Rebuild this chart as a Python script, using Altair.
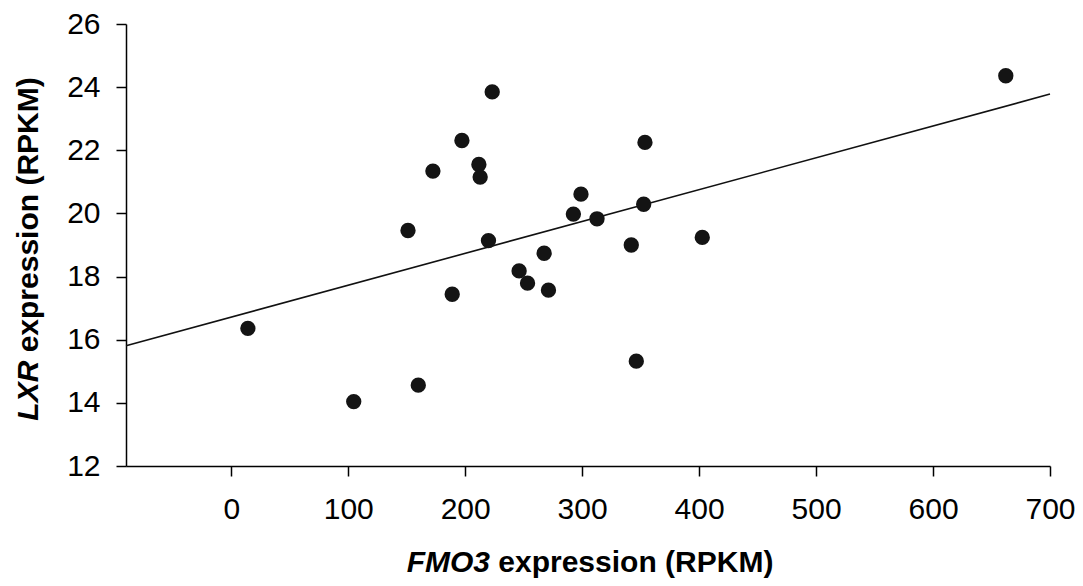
import altair as alt
import pandas as pd

# Data
fmo3 = [14.2, 104.7, 151.1, 159.9, 172.4, 188.9, 197.2, 211.7, 212.8, 219.9,
        223.1, 246.1, 253.3, 267.5, 271.2, 292.5, 299.0, 312.7, 342.0, 346.3,
        352.6, 353.7, 402.7, 662.2]
lxr = [16.36, 14.04, 19.46, 14.56, 21.34, 17.44, 22.31, 21.55, 21.15, 19.14,
       23.85, 18.18, 17.79, 18.74, 17.57, 19.98, 20.61, 19.83, 19.00, 15.32,
       20.29, 22.25, 19.24, 24.36]
fit_x = [-90, 700]
fit_y = [15.81, 23.78]
x_ticks = [0, 100, 200, 300, 400, 500, 600, 700]
y_ticks = [12, 14, 16, 18, 20, 22, 24, 26]
x_title = ["FMO3", "expression (RPKM)"]
y_title = ["LXR", "expression (RPKM)"]

FONT = "Liberation Sans"
FS = 30
W, H = 924, 442

pts = pd.DataFrame({"x": fmo3, "y": lxr})
fit = pd.DataFrame({"x": fit_x, "y": fit_y})

xs = alt.Scale(domain=[-90, 700], nice=False, zero=False)
ys = alt.Scale(domain=[12, 26], nice=False, zero=False)

xaxis = alt.Axis(values=x_ticks, labelFlush=False, labelPadding=18, labelOverlap=False)
yaxis = alt.Axis(values=y_ticks, labelPadding=16, labelOverlap=False)

points = alt.Chart(pts).mark_circle(size=235, color="#141414", opacity=1).encode(
    x=alt.X("x:Q", scale=xs, axis=xaxis, title=None),
    y=alt.Y("y:Q", scale=ys, axis=yaxis, title=None),
)

line = alt.Chart(fit).mark_line(color="#111111", strokeWidth=1.6).encode(
    x=alt.X("x:Q", scale=xs),
    y=alt.Y("y:Q", scale=ys),
)

# Approximate Arial Bold widths (em) for mixed italic title layout
def em_width(s):
    w = {"F": .611, "M": .833, "O": .778, "3": .556, "L": .611, "X": .667, "R": .722,
         "e": .556, "x": .556, "p": .611, "r": .389, "s": .556, "i": .278, "o": .611,
         "n": .611, "(": .333, ")": .333, "P": .667, "K": .722, " ": .278}
    return sum(w.get(c, .6) for c in s) * FS

SP = em_width(" ")

# X title, centered under the plot
xw0, xw1 = em_width(x_title[0]), em_width(x_title[1])
x_start = W / 2 + 2 - (xw0 + SP + xw1) / 2
x_base = 572 - 24
xt1 = alt.Chart(pd.DataFrame({"t": [x_title[0]]})).mark_text(
    font=FONT, fontSize=FS, fontWeight="bold", fontStyle="italic", align="left",
    baseline="alphabetic", color="black"
).encode(text="t:N", x=alt.value(x_start), y=alt.value(x_base))
xt2 = alt.Chart(pd.DataFrame({"t": [x_title[1]]})).mark_text(
    font=FONT, fontSize=FS, fontWeight="bold", align="left",
    baseline="alphabetic", color="black"
).encode(text="t:N", x=alt.value(x_start + xw0 + SP), y=alt.value(x_base))

# Y title, rotated, centered along the plot
yw0, yw1 = em_width(y_title[0]), em_width(y_title[1])
y_start = 249 - 24 + (yw0 + SP + yw1) / 2
y_base = 38 - 126
yt1 = alt.Chart(pd.DataFrame({"t": [y_title[0]]})).mark_text(
    font=FONT, fontSize=FS, fontWeight="bold", fontStyle="italic", align="left",
    baseline="alphabetic", angle=270, color="black"
).encode(text="t:N", x=alt.value(y_base), y=alt.value(y_start))
yt2 = alt.Chart(pd.DataFrame({"t": [y_title[1]]})).mark_text(
    font=FONT, fontSize=FS, fontWeight="bold", align="left",
    baseline="alphabetic", angle=270, color="black"
).encode(text="t:N", x=alt.value(y_base), y=alt.value(y_start - yw0 - SP))

chart = alt.layer(line, points, xt1, xt2, yt1, yt2).properties(
    width=W, height=H,
    autosize=alt.AutoSizeParams(type="none"),
    padding={"left": 118, "top": 16, "right": 25, "bottom": 118},
    background="white",
).configure_view(stroke=None).configure_axis(
    grid=False, labelFont=FONT, labelFontSize=FS, labelColor="black",
    tickSize=10, tickColor="black", tickWidth=1.5,
    domainColor="black", domainWidth=1.5,
)

chart.save("out.html", embed_options={"renderer": "svg", "actions": False})
